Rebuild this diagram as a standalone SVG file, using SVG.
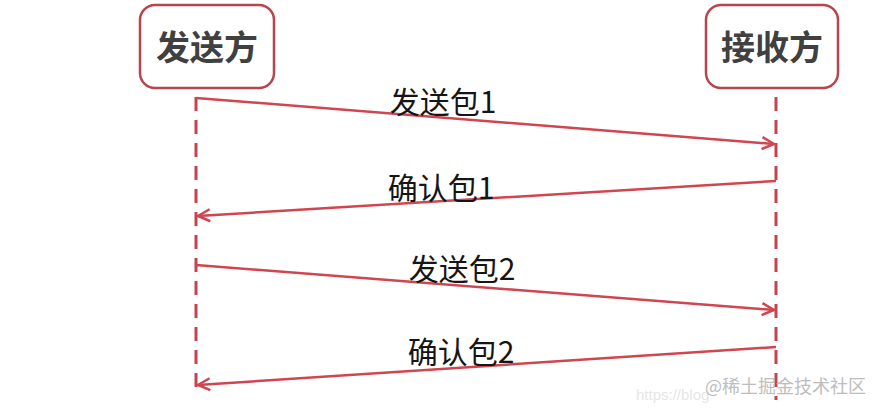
<svg xmlns="http://www.w3.org/2000/svg" width="880" height="411" viewBox="0 0 880 411">
<style>
.box{fill:#fff;stroke:#b8444e;stroke-width:2.5}
.title{font-family:"Noto Sans CJK SC","Noto Sans CJK JP",sans-serif;font-size:34px;font-weight:bold;fill:#404040;text-anchor:middle}
.life{stroke:#c8424e;stroke-width:3;stroke-dasharray:14 9;fill:none}
.msg{stroke:#d0454f;stroke-width:2.5;fill:none}
.lbl{font-family:"Noto Sans CJK SC","Noto Sans CJK JP",sans-serif;font-size:30px;fill:#151515;text-anchor:middle}
.wm{font-family:"Noto Sans CJK SC",sans-serif;font-size:18px;fill:#bdbdbd}
</style>
<defs>
<marker id="arr" viewBox="0 0 16 16" refX="14" refY="8" markerWidth="16" markerHeight="16" markerUnits="userSpaceOnUse" orient="auto">
<path d="M2,2 L14,8 L2,14" fill="none" stroke="#d0454f" stroke-width="2.5"/>
</marker>
</defs>
<rect width="880" height="411" fill="#fff"/>
<g id="sender">
<rect class="box" x="140" y="5" width="134" height="83" rx="15"/>
<text class="title" x="207" y="60">发送方</text>
</g>
<g id="receiver">
<rect class="box" x="706" y="5" width="132" height="83" rx="15"/>
<text class="title" x="772" y="60">接收方</text>
</g>
<g id="lifelines">
<line class="life" x1="196" y1="97" x2="196" y2="396"/>
<line class="life" x1="776" y1="97" x2="776" y2="400"/>
</g>
<g id="connectors">
<path class="msg" d="M196,98 L774,144" marker-end="url(#arr)"/>
<path class="msg" d="M776,181 L198,216" marker-end="url(#arr)"/>
<path class="msg" d="M196,265 L774,310" marker-end="url(#arr)"/>
<path class="msg" d="M776,347 L198,385" marker-end="url(#arr)"/>
</g>
<g id="labels">
<text class="lbl" x="443" y="113">发送包1</text>
<text class="lbl" x="441" y="199">确认包1</text>
<text class="lbl" x="462" y="280">发送包2</text>
<text class="lbl" x="461" y="363">确认包2</text>
</g>
<g id="watermark">
<text class="wm" x="636" y="400" style="font-size:15px;fill:#e6e6e6;font-family:'Liberation Sans',sans-serif">https://blog</text>
<text class="wm" x="705" y="393">@稀土掘金技术社区</text>
</g>
</svg>
